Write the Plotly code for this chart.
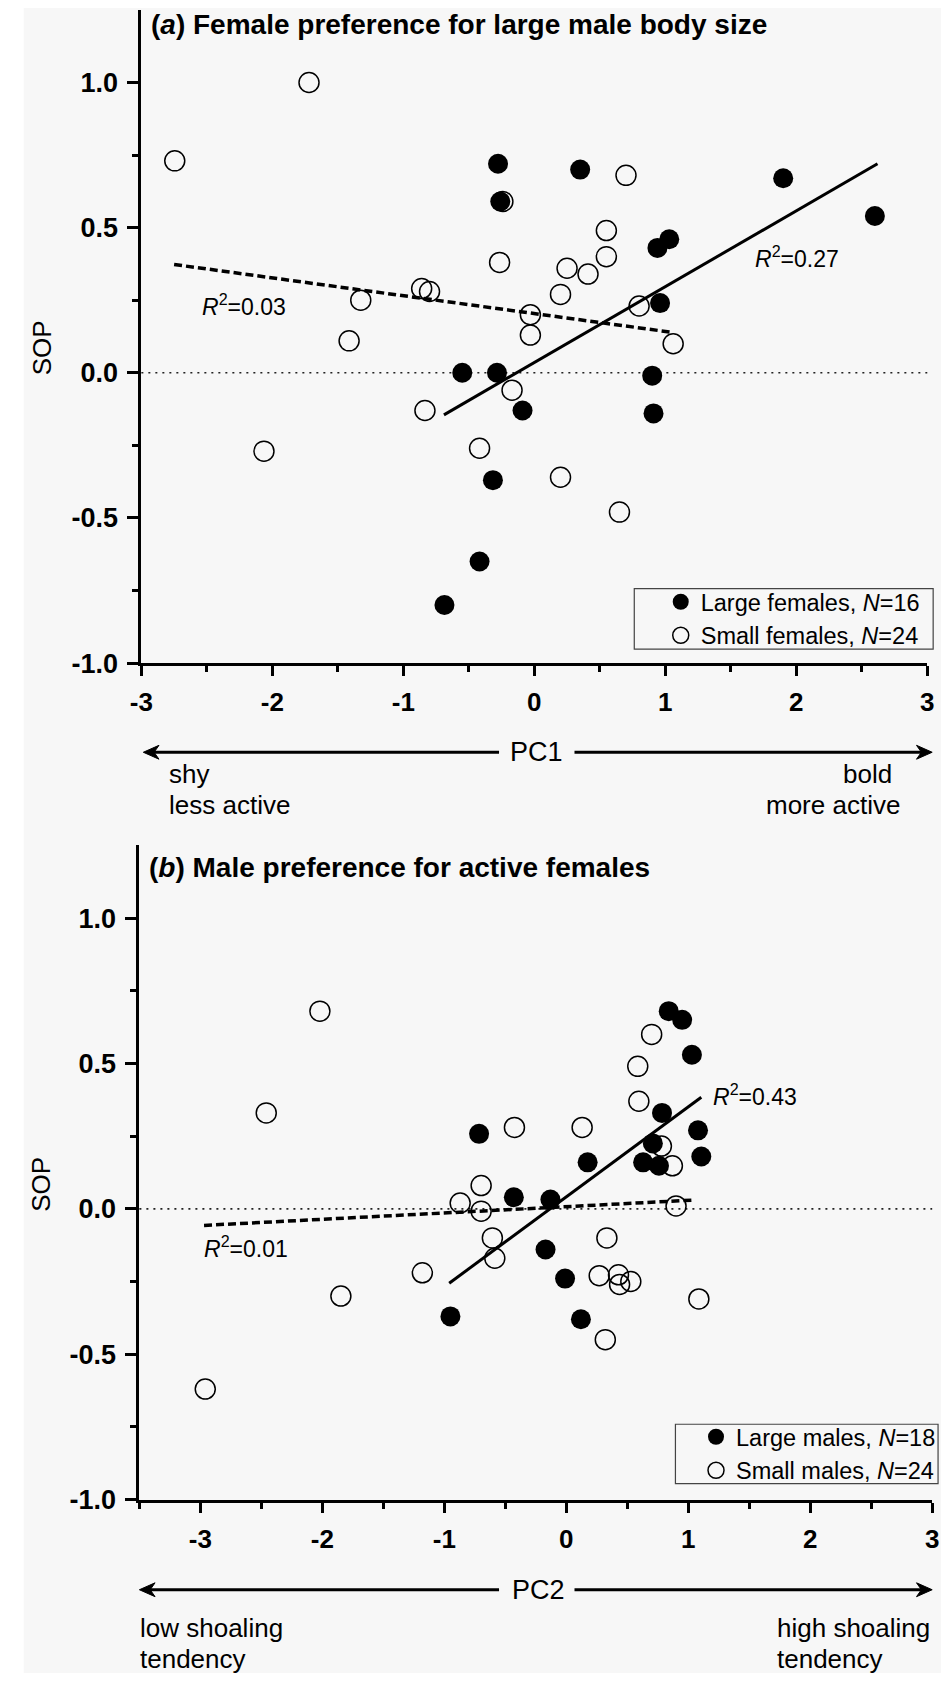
import plotly.graph_objects as go

# ---------------- data ----------------
# Panel (a): PC1 vs SOP
a_large_x = [-0.277, -0.26, 0.35, 1.90, 2.60, 1.03, 0.94, 0.96, -0.55, -0.285, 0.90, -0.09, 0.91, -0.316, -0.418, -0.686]
a_large_y = [0.72, 0.59, 0.70, 0.67, 0.54, 0.46, 0.43, 0.24, 0.00, 0.00, -0.01, -0.13, -0.14, -0.37, -0.65, -0.80]
a_small_x = [-1.72, -2.745, 0.70, -0.24, 0.55, -0.265, 0.55, 0.41, 0.25, 0.20, -0.86, -0.80, -1.325, -0.03,
             0.80, -0.03, 1.06, -1.414, -0.17, -0.835, -0.418, -2.064, 0.20, 0.65]
a_small_y = [1.00, 0.73, 0.68, 0.59, 0.49, 0.38, 0.40, 0.34, 0.36, 0.27, 0.29, 0.28, 0.25, 0.20,
             0.23, 0.13, 0.10, 0.11, -0.06, -0.13, -0.26, -0.27, -0.36, -0.48]
a_fit_large_x = [-0.69, 2.62]
a_fit_large_y = [-0.145, 0.72]
a_fit_small_x = [-2.75, 1.04]
a_fit_small_y = [0.373, 0.14]

# Panel (b): PC2 vs SOP
b_large_x = [0.84, 0.95, 1.03, 0.785, -0.715, 1.08, 0.71, 0.63, 0.76, 1.107, 0.175, -0.43, -0.13, -0.17, -0.01, 0.12, -0.95]
b_large_y = [0.68, 0.65, 0.53, 0.33, 0.258, 0.27, 0.225, 0.16, 0.148, 0.18, 0.16, 0.04, 0.032, -0.14, -0.24, -0.38, -0.37]
b_small_x = [-2.02, -2.46, 0.70, 0.586, 0.595, -0.425, 0.13, 0.78, 0.87, 0.90, -0.698, -0.87, -0.698, -0.606,
             -0.586, -1.18, -1.848, 0.333, 0.27, 0.428, 0.437, 0.529, 0.32, 1.087, -2.96]
b_small_y = [0.68, 0.33, 0.60, 0.49, 0.37, 0.28, 0.28, 0.216, 0.148, 0.01, 0.08, 0.02, -0.008, -0.10,
             -0.17, -0.22, -0.30, -0.10, -0.23, -0.227, -0.26, -0.25, -0.45, -0.31, -0.62]
b_fit_large_x = [-0.96, 1.107]
b_fit_large_y = [-0.256, 0.384]
b_fit_small_x = [-2.97, 1.04]
b_fit_small_y = [-0.057, 0.03]

# tick labels
a_xticks = [-3, -2, -1, 0, 1, 2, 3]
a_xticktext = ["-3", "-2", "-1", "0", "1", "2", "3"]
a_xminor = [-2.5, -1.5, -0.5, 0.5, 1.5, 2.5]
b_xticks = [-3, -2, -1, 0, 1, 2, 3]
b_xticktext = ["-3", "-2", "-1", "0", "1", "2", "3"]
b_xminor = [-3.5, -2.5, -1.5, -0.5, 0.5, 1.5, 2.5]
yticks = [-1.0, -0.5, 0.0, 0.5, 1.0]
yticktext = ["-1.0", "-0.5", "0.0", "0.5", "1.0"]
yminor = [-0.75, -0.25, 0.25, 0.75]

legend_a = ["Large females, <i>N</i>=16", "Small females, <i>N</i>=24"]
legend_b = ["Large males, <i>N</i>=18", "Small males, <i>N</i>=24"]

# ---------------- figure ----------------
W, H = 948, 1688
FONT = "Liberation Sans, Arial, sans-serif"
BG = "#f7f7f7"


def px(x):
    return x / W


def py(y):
    return 1 - y / H


fig = go.Figure()

MS = 20
# panel a
fig.add_trace(go.Scatter(x=a_fit_small_x, y=a_fit_small_y, mode="lines", xaxis="x", yaxis="y",
                         line=dict(color="black", width=3.5, dash="8px,4px"), showlegend=False, hoverinfo="skip"))
fig.add_trace(go.Scatter(x=a_fit_large_x, y=a_fit_large_y, mode="lines", xaxis="x", yaxis="y",
                         line=dict(color="black", width=3), showlegend=False, hoverinfo="skip"))
fig.add_trace(go.Scatter(x=a_small_x, y=a_small_y, mode="markers", xaxis="x", yaxis="y", name=legend_a[1],
                         marker=dict(symbol="circle-open", size=MS, color="black", line=dict(width=1.5)),
                         legend="legend", legendrank=2))
fig.add_trace(go.Scatter(x=a_large_x, y=a_large_y, mode="markers", xaxis="x", yaxis="y", name=legend_a[0],
                         marker=dict(symbol="circle", size=MS, color="black", line=dict(width=0)),
                         legend="legend", legendrank=1))
# panel b
fig.add_trace(go.Scatter(x=b_fit_small_x, y=b_fit_small_y, mode="lines", xaxis="x2", yaxis="y2",
                         line=dict(color="black", width=3.5, dash="8px,4px"), showlegend=False, hoverinfo="skip"))
fig.add_trace(go.Scatter(x=b_fit_large_x, y=b_fit_large_y, mode="lines", xaxis="x2", yaxis="y2",
                         line=dict(color="black", width=3), showlegend=False, hoverinfo="skip"))
fig.add_trace(go.Scatter(x=b_small_x, y=b_small_y, mode="markers", xaxis="x2", yaxis="y2", name=legend_b[1],
                         marker=dict(symbol="circle-open", size=MS, color="black", line=dict(width=1.5)),
                         legend="legend2", legendrank=2))
fig.add_trace(go.Scatter(x=b_large_x, y=b_large_y, mode="markers", xaxis="x2", yaxis="y2", name=legend_b[0],
                         marker=dict(symbol="circle", size=MS, color="black", line=dict(width=0)),
                         legend="legend2", legendrank=1))

xtickfont = dict(family=FONT, size=26, color="black", weight="bold")
ytickfont = dict(family=FONT, size=27, color="black", weight="bold")


def xaxis_cfg(domain, anchor, rng, vals, text, minor):
    return dict(domain=domain, anchor=anchor, range=rng, tickmode="array", tickvals=vals, ticktext=text,
                ticks="outside", ticklen=10, tickwidth=2.5, tickcolor="black", showline=True, linewidth=3,
                linecolor="black", showgrid=False, zeroline=False, tickfont=xtickfont, ticklabelstandoff=4,
                minor=dict(tickmode="array", tickvals=minor, ticks="outside", ticklen=6, tickwidth=2.5,
                           tickcolor="black", showgrid=False))


def yaxis_cfg(domain, anchor):
    return dict(domain=domain, anchor=anchor, range=[-1.0, 1.25], tickmode="array", tickvals=yticks,
                ticktext=yticktext, ticks="outside", ticklen=11, tickwidth=2.5, tickcolor="black",
                showline=True, linewidth=3, linecolor="black", showgrid=False, zeroline=False,
                tickfont=ytickfont, ticklabelstandoff=4,
                minor=dict(tickmode="array", tickvals=yminor, ticks="outside", ticklen=6, tickwidth=2.5,
                           tickcolor="black", showgrid=False))


def arrow_shapes(head_x, tail_x, yy, direction):
    # shaft
    out = [dict(type="line", xref="paper", yref="paper", x0=px(head_x + direction * 8), x1=px(tail_x),
                y0=py(yy), y1=py(yy), line=dict(color="black", width=3))]
    # head (filled, with notched back)
    L, Hh, N = 16, 7, 11
    p = "M {} {} L {} {} L {} {} L {} {} Z".format(
        px(head_x), py(yy),
        px(head_x + direction * L), py(yy - Hh),
        px(head_x + direction * N), py(yy),
        px(head_x + direction * L), py(yy + Hh))
    out.append(dict(type="path", xref="paper", yref="paper", path=p, fillcolor="black",
                    line=dict(color="black", width=1)))
    return out


shapes = [
    # background with thin white margin on the left and top
    dict(type="rect", xref="paper", yref="paper", x0=px(12), x1=1, y0=0, y1=py(8),
         fillcolor=BG, line=dict(width=0), layer="below"),
    # zero reference lines
    dict(type="line", xref="x domain", yref="y", x0=0, x1=1, y0=0, y1=0,
         line=dict(color="#222222", width=1.6, dash="2px,5px"), layer="below"),
    dict(type="line", xref="x2 domain", yref="y2", x0=0, x1=1, y0=0, y1=0,
         line=dict(color="#222222", width=1.6, dash="2px,5px"), layer="below"),
    # legend boxes
    dict(type="rect", xref="paper", yref="paper", x0=px(635), x1=px(940), y0=py(655), y1=py(594),
         line=dict(color="#444444", width=1.2), fillcolor="rgba(0,0,0,0)"),
    dict(type="rect", xref="paper", yref="paper", x0=px(677), x1=px(945), y0=py(1497), y1=py(1437),
         line=dict(color="#444444", width=1.2), fillcolor="rgba(0,0,0,0)"),
]
shapes += arrow_shapes(134, 497, 759, 1)
shapes += arrow_shapes(939, 574, 759, -1)
shapes += arrow_shapes(130, 497, 1604, 1)
shapes += arrow_shapes(939, 574, 1604, -1)

ann = []


def text_ann(t, x, y, xanchor="left", yanchor="middle", size=26, bold=False, angle=0):
    f = dict(family=FONT, size=size, color="black")
    if bold:
        f["weight"] = "bold"
    ann.append(dict(text=t, xref="paper", yref="paper", x=px(x), y=py(y), xanchor=xanchor, yanchor=yanchor,
                    showarrow=False, font=f, textangle=angle))


# titles
text_ann("(<i>a</i>) Female preference for large male body size", 140, 25, size=28, bold=True)
text_ann("(<i>b</i>) Male preference for active females", 138, 875, size=28, bold=True)
# y labels
text_ann("SOP", 30, 351, xanchor="center", size=26, angle=-90)
text_ann("SOP", 30, 1195, xanchor="center", size=26, angle=-90)
# PC axes labels
text_ann("PC1", 535, 759, xanchor="center", size=27)
text_ann("shy", 158, 781)
text_ann("less active", 158, 812)
text_ann("bold", 900, 781, xanchor="right")
text_ann("more active", 908, 812, xanchor="right")
text_ann("PC2", 537, 1604, xanchor="center", size=27)
text_ann("low shoaling", 129, 1643)
text_ann("tendency", 129, 1674)
text_ann("high shoaling", 779, 1643)
text_ann("tendency", 779, 1674)

# R^2 labels in data coordinates
txt = dict(family=FONT, size=23, color="black")
r2_a = [("<i>R</i><sup>2</sup>=0.03", -2.55, 0.235), ("<i>R</i><sup>2</sup>=0.27", 1.67, 0.40)]
r2_b = [("<i>R</i><sup>2</sup>=0.43", 1.19, 0.39), ("<i>R</i><sup>2</sup>=0.01", -2.99, -0.13)]
for t, x, y in r2_a:
    ann.append(dict(text=t, xref="x", yref="y", x=x, y=y, xanchor="left", yanchor="middle",
                    showarrow=False, font=txt))
for t, x, y in r2_b:
    ann.append(dict(text=t, xref="x2", yref="y2", x=x, y=y, xanchor="left", yanchor="middle",
                    showarrow=False, font=txt))

legend_common = dict(bgcolor="rgba(0,0,0,0)", borderwidth=0, font=dict(family=FONT, size=23.5, color="black"),
                     xanchor="left", yanchor="middle", tracegroupgap=0, traceorder="normal")

fig.update_layout(
    width=W, height=H, margin=dict(l=0, r=0, t=0, b=0),
    paper_bgcolor="white", plot_bgcolor="rgba(0,0,0,0)",
    font=dict(family=FONT, color="black"),
    xaxis=xaxis_cfg([px(132), px(934)], "y", [-3, 3], a_xticks, a_xticktext, a_xminor),
    yaxis=yaxis_cfg([py(669), py(10)], "x"),
    xaxis2=xaxis_cfg([px(130), px(939)], "y2", [-3.5, 3], b_xticks, b_xticktext, b_xminor),
    yaxis2=yaxis_cfg([py(1513), py(853)], "x2"),
    legend=dict(x=px(662), y=py(624.5), **legend_common),
    legend2=dict(x=px(698), y=py(1467), **legend_common),
    shapes=shapes,
    annotations=ann,
)

fig.write_html("out.html", config={"displayModeBar": False},
               post_script="document.body.style.margin='0px';")
